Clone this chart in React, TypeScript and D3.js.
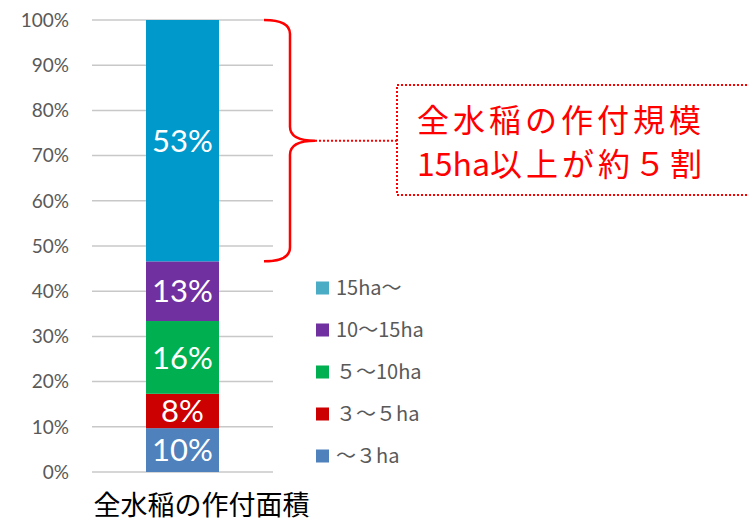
import React, { useEffect, useRef } from "react";
import * as d3 from "d3";

// shares of total paddy-rice planted area, bottom to top
const categories = ["～３ha", "３～５ha", "５～10ha", "10～15ha", "15ha～"];
const shares = [9.7, 7.6, 16.1, 13.2, 53.4];
const barColors = ["#4F81BD", "#CC0000", "#00B050", "#7030A0", "#0099CC"];
const legendColors = ["#4F81BD", "#CC0000", "#00B050", "#7030A0", "#4BACC6"];
const yTicks = [0, 10, 20, 30, 40, 50, 60, 70, 80, 90, 100];
const barName = "全水稲の作付面積";
// callout text, split so the latin run can be set without extra spacing
const noteLines = [
  [{ t: "全水稲の作付規模", ls: 4 }],
  [
    { t: "15ha", ls: 0 },
    { t: "以上が約５割", ls: 4 },
  ],
];

const LATIN = "Lato, 'Noto Sans', sans-serif";
const CJK = "'Noto Sans CJK JP', sans-serif";

export default function App() {
  const ref = useRef<SVGSVGElement>(null);

  useEffect(() => {
    const width = 748;
    const height = 529;
    const svg = d3.select(ref.current).attr("width", width).attr("height", height);
    svg.selectAll("*").remove();
    svg.append("rect").attr("width", width).attr("height", height).attr("fill", "#fff");

    const y = d3.scaleLinear().domain([0, 100]).range([472, 20]);
    const x = d3.scaleBand().domain([barName]).range([92, 273]).paddingInner(0).paddingOuter(0.74);

    // grid
    svg
      .append("g")
      .selectAll("line")
      .data(yTicks)
      .join("line")
      .attr("x1", 92)
      .attr("x2", 273)
      .attr("y1", (d) => y(d))
      .attr("y2", (d) => y(d))
      .attr("stroke", "#C8C8C8")
      .attr("stroke-width", 1.5);

    // y labels
    svg
      .append("g")
      .selectAll("text")
      .data(yTicks)
      .join("text")
      .attr("x", 69)
      .attr("y", (d) => y(d))
      .attr("dy", "0.36em")
      .attr("text-anchor", "end")
      .attr("font-family", LATIN)
      .attr("font-size", 19)
      .attr("fill", "#595959")
      .text((d) => `${d}%`);

    // stacked segments
    const stacked = shares.map((v, i) => ({
      v,
      i,
      y0: d3.sum(shares.slice(0, i)),
      y1: d3.sum(shares.slice(0, i + 1)),
    }));
    const bx = x(barName) as number;
    const bw = x.bandwidth();

    svg
      .append("g")
      .selectAll("rect")
      .data(stacked)
      .join("rect")
      .attr("x", bx)
      .attr("width", bw)
      .attr("y", (d) => y(d.y1))
      .attr("height", (d) => y(d.y0) - y(d.y1))
      .attr("fill", (d) => barColors[d.i]);

    svg
      .append("g")
      .selectAll("text")
      .data(stacked)
      .join("text")
      .attr("x", bx + bw / 2)
      .attr("y", (d) => y((d.y0 + d.y1) / 2))
      .attr("dy", "0.36em")
      .attr("text-anchor", "middle")
      .attr("font-family", LATIN)
      .attr("font-size", 31)
      .attr("fill", "#fff")
      .text((d) => `${Math.round(d.v)}%`);

    // category label (sits a little right of the bar centre, as in the original)
    svg
      .append("text")
      .attr("x", bx + bw / 2 + 19)
      .attr("y", 515)
      .attr("text-anchor", "middle")
      .attr("font-family", CJK)
      .attr("font-size", 27)
      .attr("fill", "#000")
      .text(barName);

    // legend (top = largest class)
    const legend = svg
      .append("g")
      .selectAll("g")
      .data(categories.map((l, i) => ({ l, i })).reverse())
      .join("g")
      .attr("transform", (_, k) => `translate(316,${288 + k * 42})`);
    legend
      .append("rect")
      .attr("y", -6.5)
      .attr("width", 13)
      .attr("height", 13)
      .attr("fill", (d) => legendColors[d.i]);
    legend
      .append("text")
      .attr("x", 20)
      .attr("dy", "0.36em")
      .attr("font-family", CJK)
      .attr("font-size", 20)
      .attr("fill", "#595959")
      .text((d) => d.l);

    // curly brace over the 15ha+ segment
    const top = y(stacked[4].y1);
    const bot = y(stacked[4].y0);
    const mid = (top + bot) / 2;
    const bxL = 264;
    const bxV = 290;
    const tip = 315;
    const r = 14;
    const brace = d3.path();
    brace.moveTo(bxL, top);
    brace.quadraticCurveTo(bxV, top, bxV, top + r);
    brace.lineTo(bxV, mid - r);
    brace.quadraticCurveTo(bxV, mid, tip, mid);
    brace.quadraticCurveTo(bxV, mid, bxV, mid + r);
    brace.lineTo(bxV, bot - r);
    brace.quadraticCurveTo(bxV, bot, bxL, bot);
    svg
      .append("path")
      .attr("d", brace.toString())
      .attr("fill", "none")
      .attr("stroke", "#FF0000")
      .attr("stroke-width", 2.5);

    // dotted connector and callout box
    svg
      .append("line")
      .attr("x1", tip)
      .attr("x2", 397)
      .attr("y1", mid)
      .attr("y2", mid)
      .attr("stroke", "#FF0000")
      .attr("stroke-width", 2)
      .attr("stroke-dasharray", "2,2");
    svg
      .append("rect")
      .attr("x", 397)
      .attr("y", 85)
      .attr("width", 360)
      .attr("height", 110)
      .attr("fill", "none")
      .attr("stroke", "#FF0000")
      .attr("stroke-width", 2)
      .attr("stroke-dasharray", "2,2");
    const note = svg
      .append("g")
      .selectAll("text")
      .data(noteLines)
      .join("text")
      .attr("x", 417)
      .attr("y", (_, i) => 132 + i * 44)
      .attr("font-family", CJK)
      .attr("font-size", 32)
      .attr("fill", "#FF0000");
    note
      .selectAll("tspan")
      .data((d) => d)
      .join("tspan")
      .attr("letter-spacing", (d) => d.ls)
      .text((d) => d.t);
  }, []);

  return <svg ref={ref} style={{ position: "absolute", left: 0, top: 0 }} />;
}
